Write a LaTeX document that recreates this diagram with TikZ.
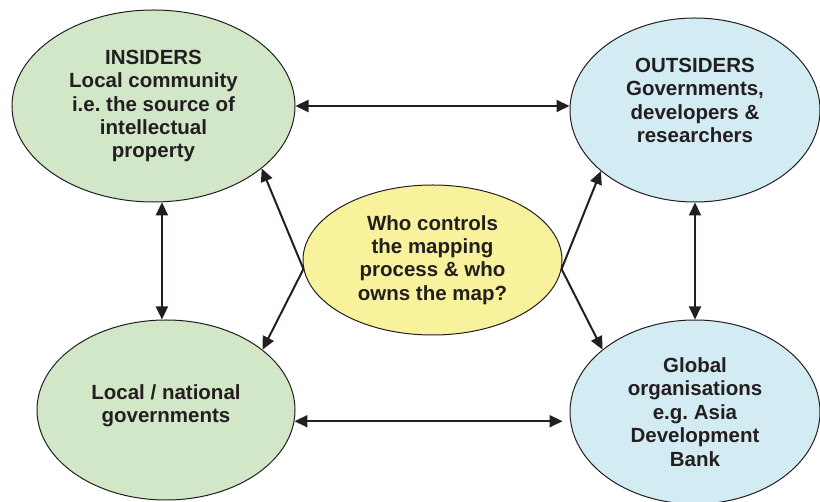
\documentclass[tikz,border=0pt]{standalone}
\usepackage{fontspec}
\setmainfont{Liberation Sans}
\usepackage{xcolor}
\usetikzlibrary{shapes.geometric, arrows.meta}
\frenchspacing

\definecolor{insidegreen}{RGB}{210,231,199}
\definecolor{outsideblue}{RGB}{211,236,244}
\definecolor{askyellow}{RGB}{247,242,155}
\definecolor{inkgray}{RGB}{35,31,32}

\begin{document}
\begin{tikzpicture}[x=1pt, y=-1pt,
    bubble/.style={ellipse, draw=inkgray, line width=1pt, inner sep=0pt,
        align=center, text=inkgray, font=\fontsize{20.5}{23.4}\selectfont\bfseries},
    twoway/.style={{Triangle[length=13pt, width=12pt]}-{Triangle[length=13pt, width=12pt]},
        line width=2pt, draw=inkgray},
    oneway/.style={-{Triangle[length=13pt, width=12pt]}, line width=2pt, draw=inkgray}]
    % Fix the page to the reference size
    \useasboundingbox (0,0) rectangle (820,502);

    % Draw the four stakeholder ellipses
    \node[bubble, fill=insidegreen, minimum width=283, minimum height=192] (insiders) at (153.5,106)
        {INSIDERS\\Local community\\i.e. the source of\\intellectual\\property};
    \node[bubble, fill=outsideblue, minimum width=250, minimum height=184] (outsiders) at (695,110)
        {OUTSIDERS\\Governments,\\developers \&\\researchers\\[-4pt]\mbox{}};
    \node[bubble, fill=insidegreen, minimum width=258, minimum height=180] (localgov) at (166,410)
        {Local / national\\governments\\[-10pt]\mbox{}};
    \node[bubble, fill=outsideblue, minimum width=250, minimum height=184] (global) at (695,412)
        {Global\\organisations\\e.g. Asia\\Development\\Bank};

    % Draw the question in the middle
    \node[bubble, fill=askyellow, minimum width=259, minimum height=150] (question) at (432.5,260)
        {Who controls\\the mapping\\process \& who\\owns the map?};

    % Two-way links round the outside
    \draw[twoway] (insiders.east) -- (insiders.east -| outsiders.west);
    \draw[twoway, shorten >=7pt] (localgov.-5) -- (localgov.-5 -| global.west);
    \draw[twoway] (insiders.-85.5) -- (insiders.-85.5 |- localgov.north);
    \draw[twoway] (outsiders.south) -- (global.north);

    % One-way links out of the question
    \draw[oneway] (question.184) -- (insiders.-30);
    \draw[oneway] (question.184) -- (localgov.32);
    \draw[oneway] (question.-4) -- (outsiders.213);
    \draw[oneway] (question.-4) -- (global.146);
\end{tikzpicture}
\end{document}
